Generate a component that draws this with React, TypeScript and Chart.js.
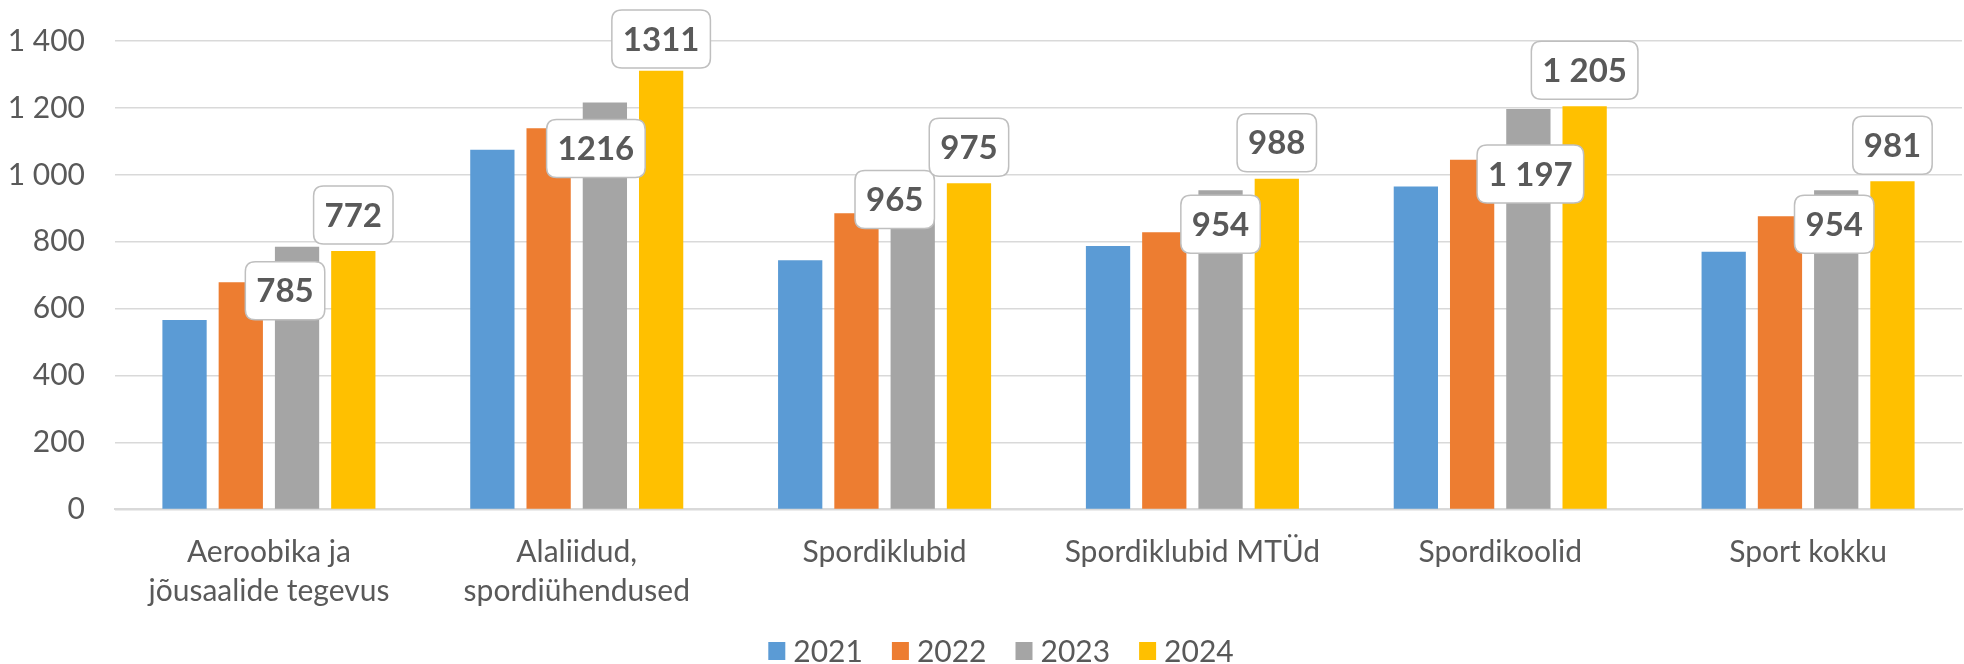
import React, { useEffect, useRef } from "react";
import { Chart, registerables } from "chart.js";

Chart.register(...registerables);

const CATEGORIES: (string | string[])[] = [
  ["Aeroobika ja", "jõusaalide tegevus"],
  ["Alaliidud,", "spordiühendused"],
  "Spordiklubid",
  "Spordiklubid MTÜd",
  "Spordikoolid",
  "Sport kokku",
];
const SERIES_NAMES = ["2021", "2022", "2023", "2024"];
const VALUES_2021 = [566, 1075, 745, 787, 965, 770];
const VALUES_2022 = [679, 1139, 885, 828, 1045, 876];
const VALUES_2023 = [785, 1216, 965, 954, 1197, 954];
const VALUES_2024 = [772, 1311, 975, 988, 1205, 981];
const LABELS_2023 = ["785", "1216", "965", "954", "1 197", "954"];
const LABELS_2024 = ["772", "1311", "975", "988", "1 205", "981"];
const Y_MAX = 1400;
const Y_STEP = 200;

const COLORS = ["#5B9BD5", "#ED7D31", "#A5A5A5", "#FFC000"];
const TEXT = "#595959";
const FONT = "Lato, 'Open Sans', 'DejaVu Sans', sans-serif";

// label placement nudges (style, px) for the manually placed 2023 labels
const GRAY_SHIFT_X = [-12, -9, -18, 0, 2, -2];
const GRAY_SHIFT_Y = [44, 46, 13, 34, 65, 34];

function roundRect(ctx: CanvasRenderingContext2D, x: number, y: number, w: number, h: number, r: number) {
  ctx.beginPath();
  ctx.moveTo(x + r, y);
  ctx.lineTo(x + w - r, y);
  ctx.quadraticCurveTo(x + w, y, x + w, y + r);
  ctx.lineTo(x + w, y + h - r);
  ctx.quadraticCurveTo(x + w, y + h, x + w - r, y + h);
  ctx.lineTo(x + r, y + h);
  ctx.quadraticCurveTo(x, y + h, x, y + h - r);
  ctx.lineTo(x, y + r);
  ctx.quadraticCurveTo(x, y, x + r, y);
  ctx.closePath();
}

const labelPlugin = {
  id: "boxLabels",
  afterDraw(chart: any) {
    const ctx: CanvasRenderingContext2D = chart.ctx;
    ctx.save();
    ctx.font = `bold 33px ${FONT}`;
    ctx.textAlign = "center";
    ctx.textBaseline = "middle";
    const drawBox = (text: string, cx: number, cy: number) => {
      const tw = ctx.measureText(text).width;
      const w = tw + 22;
      const h = 58;
      let top = cy - h / 2;
      if (top < 10) top = 10;
      roundRect(ctx, cx - w / 2, top, w, h, 10);
      ctx.fillStyle = "#FFFFFF";
      ctx.fill();
      ctx.lineWidth = 1.5;
      ctx.strokeStyle = "#BFBFBF";
      ctx.stroke();
      ctx.fillStyle = TEXT;
      ctx.fillText(text, cx, top + h / 2 + 1);
    };
    const metaGray = chart.getDatasetMeta(2);
    const metaYellow = chart.getDatasetMeta(3);
    metaGray.data.forEach((bar: any, i: number) => {
      drawBox(LABELS_2023[i], bar.x + GRAY_SHIFT_X[i], bar.y + GRAY_SHIFT_Y[i]);
    });
    metaYellow.data.forEach((bar: any, i: number) => {
      drawBox(LABELS_2024[i], bar.x, bar.y - 36);
    });

    // legend
    ctx.font = `30px ${FONT}`;
    ctx.textAlign = "left";
    const boxW = 17;
    const boxH = 18;
    const gapAfterBox = 8;
    const gapBetween = 29;
    const items = chart.data.datasets.map((ds: any) => ({
      text: ds.label as string,
      color: ds.backgroundColor as string,
      tw: ctx.measureText(ds.label).width,
    }));
    const total =
      items.reduce((s: number, it: any) => s + boxW + gapAfterBox + it.tw, 0) + gapBetween * (items.length - 1);
    const centerX = 1001;
    const cy = 651;
    let x = centerX - total / 2;
    items.forEach((it: any) => {
      ctx.fillStyle = it.color;
      ctx.fillRect(x, cy - boxH / 2, boxW, boxH);
      x += boxW + gapAfterBox;
      ctx.fillStyle = TEXT;
      ctx.fillText(it.text, x, cy + 1);
      x += it.tw + gapBetween;
    });
    ctx.restore();
  },
};

export default function App() {
  const ref = useRef<HTMLCanvasElement | null>(null);
  useEffect(() => {
    document.body.style.margin = "0";
    const canvas = ref.current!;
    const seriesValues = [VALUES_2021, VALUES_2022, VALUES_2023, VALUES_2024];
    const chart = new Chart(canvas, {
      type: "bar",
      data: {
        labels: CATEGORIES,
        datasets: SERIES_NAMES.map((name, i) => ({
          label: name,
          data: seriesValues[i],
          backgroundColor: COLORS[i],
          borderWidth: 0,
          categoryPercentage: 0.731,
          barPercentage: 0.787,
        })),
      },
      options: {
        animation: false,
        responsive: false,
        devicePixelRatio: 1,
        layout: { padding: { left: 0, right: 2, top: 41, bottom: 30 } },
        plugins: {
          legend: { display: false },
          tooltip: { enabled: false },
        },
        scales: {
          x: {
            grid: { display: false, drawTicks: false },
            border: { color: "#D9D9D9", width: 2 },
            ticks: {
              color: TEXT,
              font: { family: FONT, size: 30, lineHeight: 1.31 },
              padding: 23,
              maxRotation: 0,
              autoSkip: false,
            },
            afterFit: (scale: any) => {
              scale.paddingLeft = 0;
              scale.paddingRight = 0;
            },
          },
          y: {
            min: 0,
            max: Y_MAX,
            grid: { color: "#D9D9D9", lineWidth: 1.5, drawTicks: false },
            border: { display: false },
            afterFit: (scale: any) => {
              scale.width = 115;
              scale.paddingTop = 0;
              scale.paddingBottom = 0;
            },
            ticks: {
              stepSize: Y_STEP,
              color: TEXT,
              font: { family: FONT, size: 30 },
              padding: 30,
              callback: (v: any) => {
                const n = Number(v);
                return n >= 1000 ? `${Math.floor(n / 1000)} ${String(n % 1000).padStart(3, "0")}` : String(n);
              },
            },
          },
        },
      },
      plugins: [labelPlugin],
    });
    return () => chart.destroy();
  }, []);
  return (
    <div style={{ width: 1964, height: 664 }}>
      <canvas ref={ref} width={1964} height={664} />
    </div>
  );
}
